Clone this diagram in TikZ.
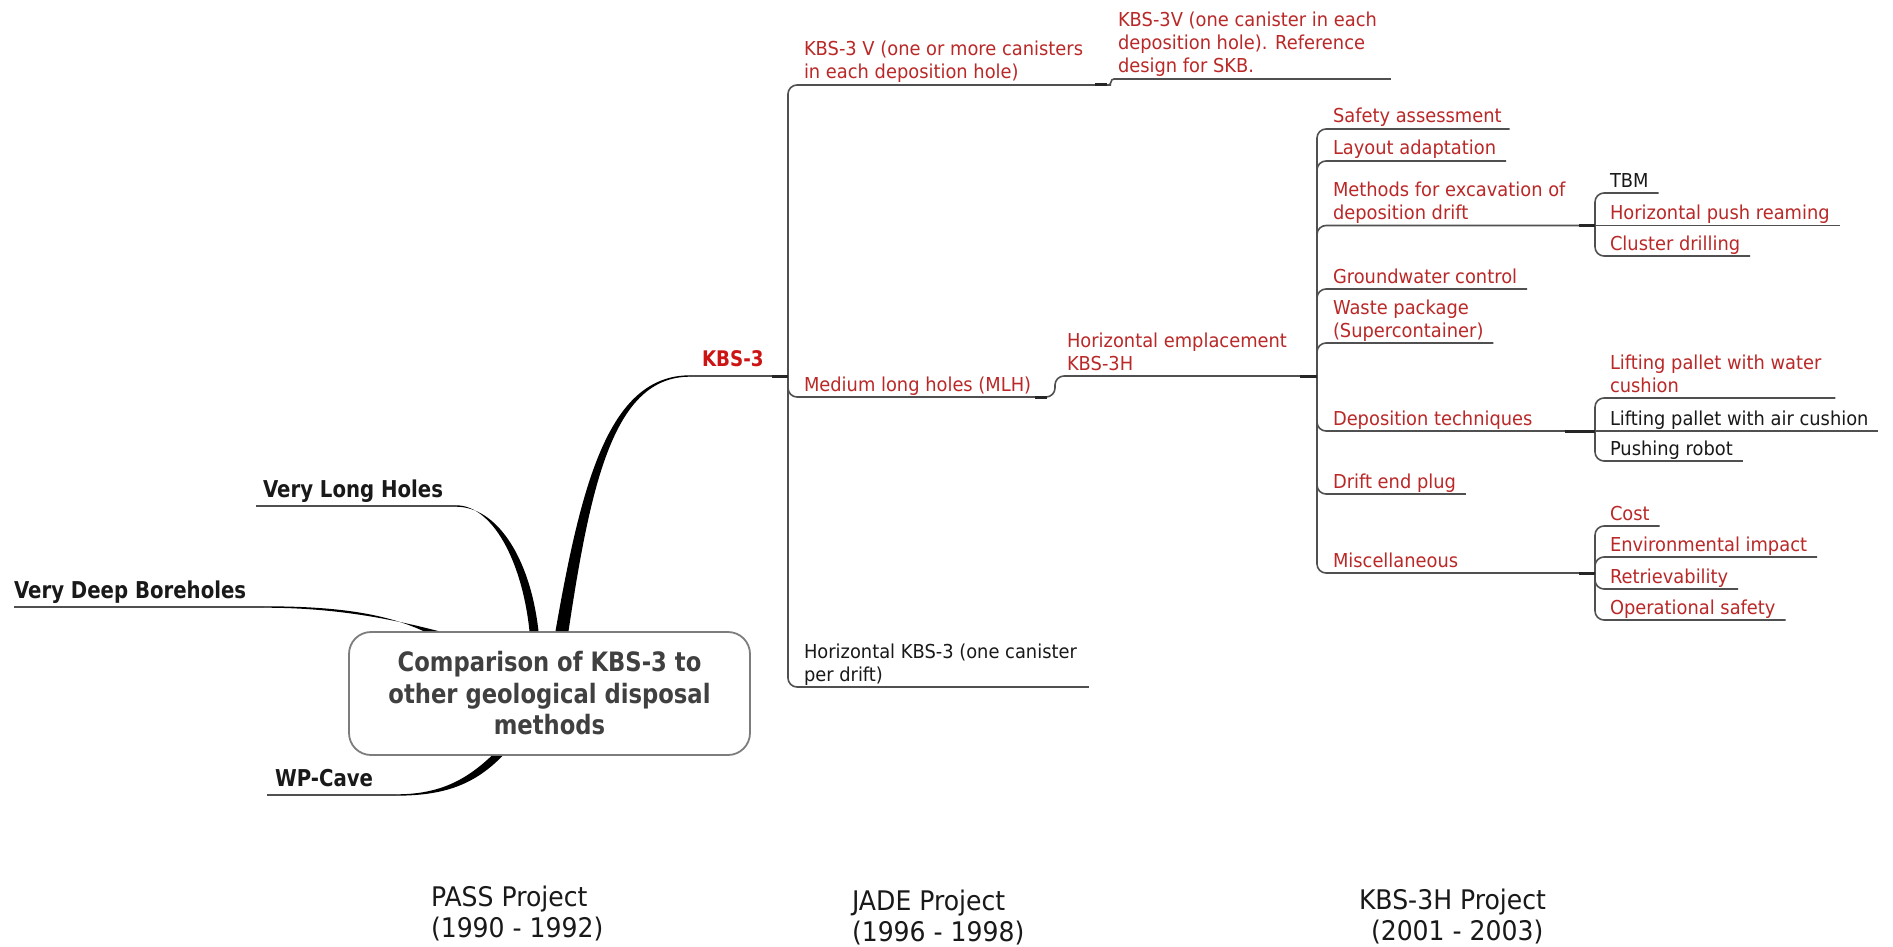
\documentclass[tikz,border=0pt]{standalone}
\usepackage{fontspec}
\setmainfont{DejaVu Sans}[FakeStretch=0.93]
\newfontfamily\boldfam{DejaVu Sans}[FakeStretch=0.85]
\usetikzlibrary{calc}

\definecolor{mapred}{RGB}{186,40,40}
\definecolor{kbsred}{RGB}{205,20,20}
\definecolor{ink}{RGB}{25,25,25}
\definecolor{wirecol}{RGB}{80,80,80}
\definecolor{boxtext}{RGB}{64,64,64}
\definecolor{boxline}{RGB}{125,125,125}

% invisible struts: fix the gap between the last baseline and the underline
\newcommand\gapS{\rule[-6pt]{0pt}{1pt}}
\newcommand\gapL{\rule[-8.5pt]{0pt}{1pt}}
\newcommand\gapP{\rule[-7pt]{0pt}{1pt}}

\tikzset{
  topic/.style={anchor=south west, inner sep=0pt, outer sep=0pt, align=left,
    text=mapred, font=\fontsize{19.2}{23}\selectfont},
  plain/.style={topic, text=ink},
  major/.style={anchor=south west, inner sep=0pt, outer sep=0pt, text=ink,
    font=\boldfam\bfseries\fontsize{23.2}{28}\selectfont},
  hub/.style={major, text=kbsred, font=\boldfam\bfseries\fontsize{21.5}{26}\selectfont},
  rootbox/.style={draw=boxline, line width=1.8pt, fill=white, rounded corners=22pt,
    minimum width=401pt, minimum height=123pt, inner sep=0pt, align=center,
    text=boxtext, font=\boldfam\bfseries\fontsize{26.7}{31.5}\selectfont},
  project/.style={anchor=south west, inner sep=0pt, outer sep=0pt, align=left,
    text=ink, font=\fontsize{27}{31}\selectfont},
  wire/.style={draw=wirecol, line width=1.6pt, rounded corners=9pt},
  stub/.style={draw=black!85, line width=3pt},
  taper/.style={fill=black},
}

\begin{document}
\begin{tikzpicture}[x=1pt,y=-1pt]
\fill[white] (0,0) rectangle (1893,947);
\useasboundingbox (0,0) rectangle (1893,947);

% ---------- central topic and main branches ----------
\node[rootbox] (root) at (549.5,693.5) {Comparison of KBS-3 to\\other geological disposal\\methods};

\node[major] (vlh) at (263,506) {Very Long Holes\gapL};
\node[major] (vdb) at (14,607) {Very Deep Boreholes\gapL};
\node[major] (wpc) at (275,795) {WP-Cave\gapL};
\node[hub] (kbs3) at (702,376) {KBS-3\rule[-10pt]{0pt}{1pt}};

% ---------- KBS-3 subtopics ----------
\node[topic] (k3v) at (804,85) {KBS-3 V (one or more canisters\\in each deposition hole)\gapS};
\node[topic] (mlh) at (804,397) {Medium long holes (MLH)\gapS};
\node[plain] (hk3) at (804,687) {Horizontal KBS-3 (one canister\\per drift)\gapS};

\node[topic] (k3vr) at (1118,79) {KBS-3V (one canister in each\\deposition hole). Reference\\design for SKB.\gapS};
\node[topic] (he) at (1067,376) {Horizontal emplacement\\KBS-3H\gapS};

% ---------- KBS-3H topics ----------
\node[topic] (safety)  at (1333,129)   {Safety assessment\gapS};
\node[topic] (layout)  at (1333,161)   {Layout adaptation\gapS};
\node[topic] (methods) at (1333,225.5) {Methods for excavation of\\deposition drift\gapS};
\node[topic] (gwc)     at (1333,289)   {Groundwater control\gapS};
\node[topic] (waste)   at (1333,343)   {Waste package\\(Supercontainer)\gapS};
\node[topic] (deptech) at (1333,431)   {Deposition techniques\gapS};
\node[topic] (plug)    at (1333,494)   {Drift end plug\gapS};
\node[topic] (misc)    at (1333,573)   {Miscellaneous\gapS};

\node[plain] (tbm)     at (1610,193)   {TBM\gapS};
\node[topic] (hpr)     at (1610,225.5) {Horizontal push reaming\gapS};
\node[topic] (cluster) at (1610,256)   {Cluster drilling\gapS};

\node[topic] (lpw)     at (1610,398)   {Lifting pallet with water\\cushion\gapS};
\node[plain] (lpa)     at (1610,431)   {Lifting pallet with air cushion\gapS};
\node[plain] (robot)   at (1610,461)   {Pushing robot\gapS};

\node[topic] (cost)    at (1610,526)   {Cost\gapS};
\node[topic] (env)     at (1610,557)   {Environmental impact\gapS};
\node[topic] (retr)    at (1610,589)   {Retrievability\gapS};
\node[topic] (opsafe)  at (1610,620)   {Operational safety\gapS};

% ---------- project captions ----------
\node[project] (pass)  at (431,944)  {PASS Project\\(1990 - 1992)\gapP};
\node[project] (jade)  at (852,948)  {JADE Project\\(1996 - 1998)\gapP};
\node[project] (kbs3h) at (1359,947) {KBS-3H Project\\\hspace*{12pt}(2001 - 2003)\gapP};

% ---------- bracket junctions ----------
\coordinate (k3-j)   at (788,376);
\coordinate (k3v-j)  at (1111,85);
\coordinate (mlh-j)  at (1055,397);
\coordinate (he-j)   at (1317,376);
\coordinate (meth-j) at (1595,225.5);
\coordinate (dep-j)  at (1595,431);
\coordinate (misc-j) at (1595,573);

% ---------- underlines of the main branches ----------
\draw[wire, rounded corners=0pt] ($(vlh.south west)+(-7,0)$) -- ($(vlh.south east)+(13,0)$) coordinate (vlh-e);
\draw[wire, rounded corners=0pt] (vdb.south west) -- ($(vdb.south east)+(18,0)$) coordinate (vdb-e);
\draw[wire, rounded corners=0pt] ($(wpc.south west)+(-8,0)$) -- ($(wpc.south east)+(23,0)$) coordinate (wpc-e);
\draw[wire, rounded corners=0pt] ($(kbs3.south west)+(-12,0)$) -- (k3-j);

% ---------- tapered branches from the central topic ----------
\fill[taper] ($(vlh-e)+(0,-0.7)$) .. controls (492,505.3) and (522,560) .. ($(root.north)+(-20,0)$)
  -- ($(root.north)+(-11,0)$) .. controls (530,556) and (496,506.7) .. ($(vlh-e)+(0,0.7)$) -- cycle;
\fill[taper] ($(vdb-e)+(0,-0.7)$) .. controls (330,606.3) and (382,612) .. ($(root.north)+(-126,0)$)
  -- ($(root.north)+(-111,0)$) .. controls (384,617) and (330,607.7) .. ($(vdb-e)+(0,0.7)$) -- cycle;
\fill[taper] ($(root.south)+(-58,0)$) .. controls (465,781) and (438,794.4) .. ($(wpc-e)+(0,-0.7)$)
  -- ($(wpc-e)+(0,0.7)$) .. controls (444,795.6) and (474,785) .. ($(root.south)+(-47,0)$) -- cycle;
\fill[taper] ($(root.north)+(6,0)$) .. controls (582,479) and (610,375.4) .. ($(kbs3.south west)+(-12,-0.7)$)
  -- ($(kbs3.south west)+(-12,0.7)$) .. controls (614,376.6) and (591,482) .. ($(root.north)+(19,0)$) -- cycle;

% ---------- KBS-3 bracket ----------
\draw[wire] (k3-j) |- (k3v-j);
\draw[wire, rounded corners=3pt] ($(k3v-j)+(-8,0)$) -- (k3v-j) |- ($(k3vr.south east)+(14,0)$);
\draw[wire] (k3-j) |- (mlh-j) |- (he-j);
\draw[wire] (k3-j) |- ($(hk3.south east)+(12,0)$);

% ---------- KBS-3H bracket ----------
\draw[wire] (he-j) |- ($(safety.south east)+(8,0)$);
\draw[wire] (he-j) |- ($(layout.south east)+(10,0)$);
\draw[wire] (he-j) |- (meth-j);
\draw[wire] (he-j) |- ($(gwc.south east)+(10,0)$);
\draw[wire] (he-j) |- ($(waste.south east)+(10,0)$);
\draw[wire] (he-j) |- (dep-j);
\draw[wire] (he-j) |- ($(plug.south east)+(10,0)$);
\draw[wire] (he-j) |- (misc-j);

% excavation methods
\draw[wire] (meth-j) |- ($(tbm.south east)+(10,0)$);
\draw[wire] (meth-j) -- ($(hpr.south east)+(10,0)$);
\draw[wire] (meth-j) |- ($(cluster.south east)+(10,0)$);

% deposition techniques
\draw[wire] (dep-j) |- ($(lpw.south east)+(14,0)$);
\draw[wire] (dep-j) -- ($(lpa.south east)+(10,0)$);
\draw[wire] (dep-j) |- ($(robot.south east)+(10,0)$);

% miscellaneous
\draw[wire] (misc-j) |- ($(cost.south east)+(10,0)$);
\draw[wire] (misc-j) |- ($(env.south east)+(10,0)$);
\draw[wire] (misc-j) |- ($(retr.south east)+(10,0)$);
\draw[wire] (misc-j) |- ($(opsafe.south east)+(10,0)$);

% ---------- heavier ends where a line enters its bracket ----------
\draw[stub] ($(k3-j)+(-16,0)$) -- (k3-j);
\draw[stub] ($(he-j)+(-17,0)$) -- (he-j);
\draw[stub] ($(meth-j)+(-16,0)$) -- (meth-j);
\draw[stub] ($(dep-j)+(-30,0)$) -- (dep-j);
\draw[stub] ($(misc-j)+(-16,0)$) -- (misc-j);
\draw[stub] ($(mlh-j)+(-20,0)$) -- ($(mlh-j)+(-8,0)$);
\draw[stub] ($(k3v-j)+(-16,0)$) -- ($(k3v-j)+(-4,0)$);
\end{tikzpicture}
\end{document}
